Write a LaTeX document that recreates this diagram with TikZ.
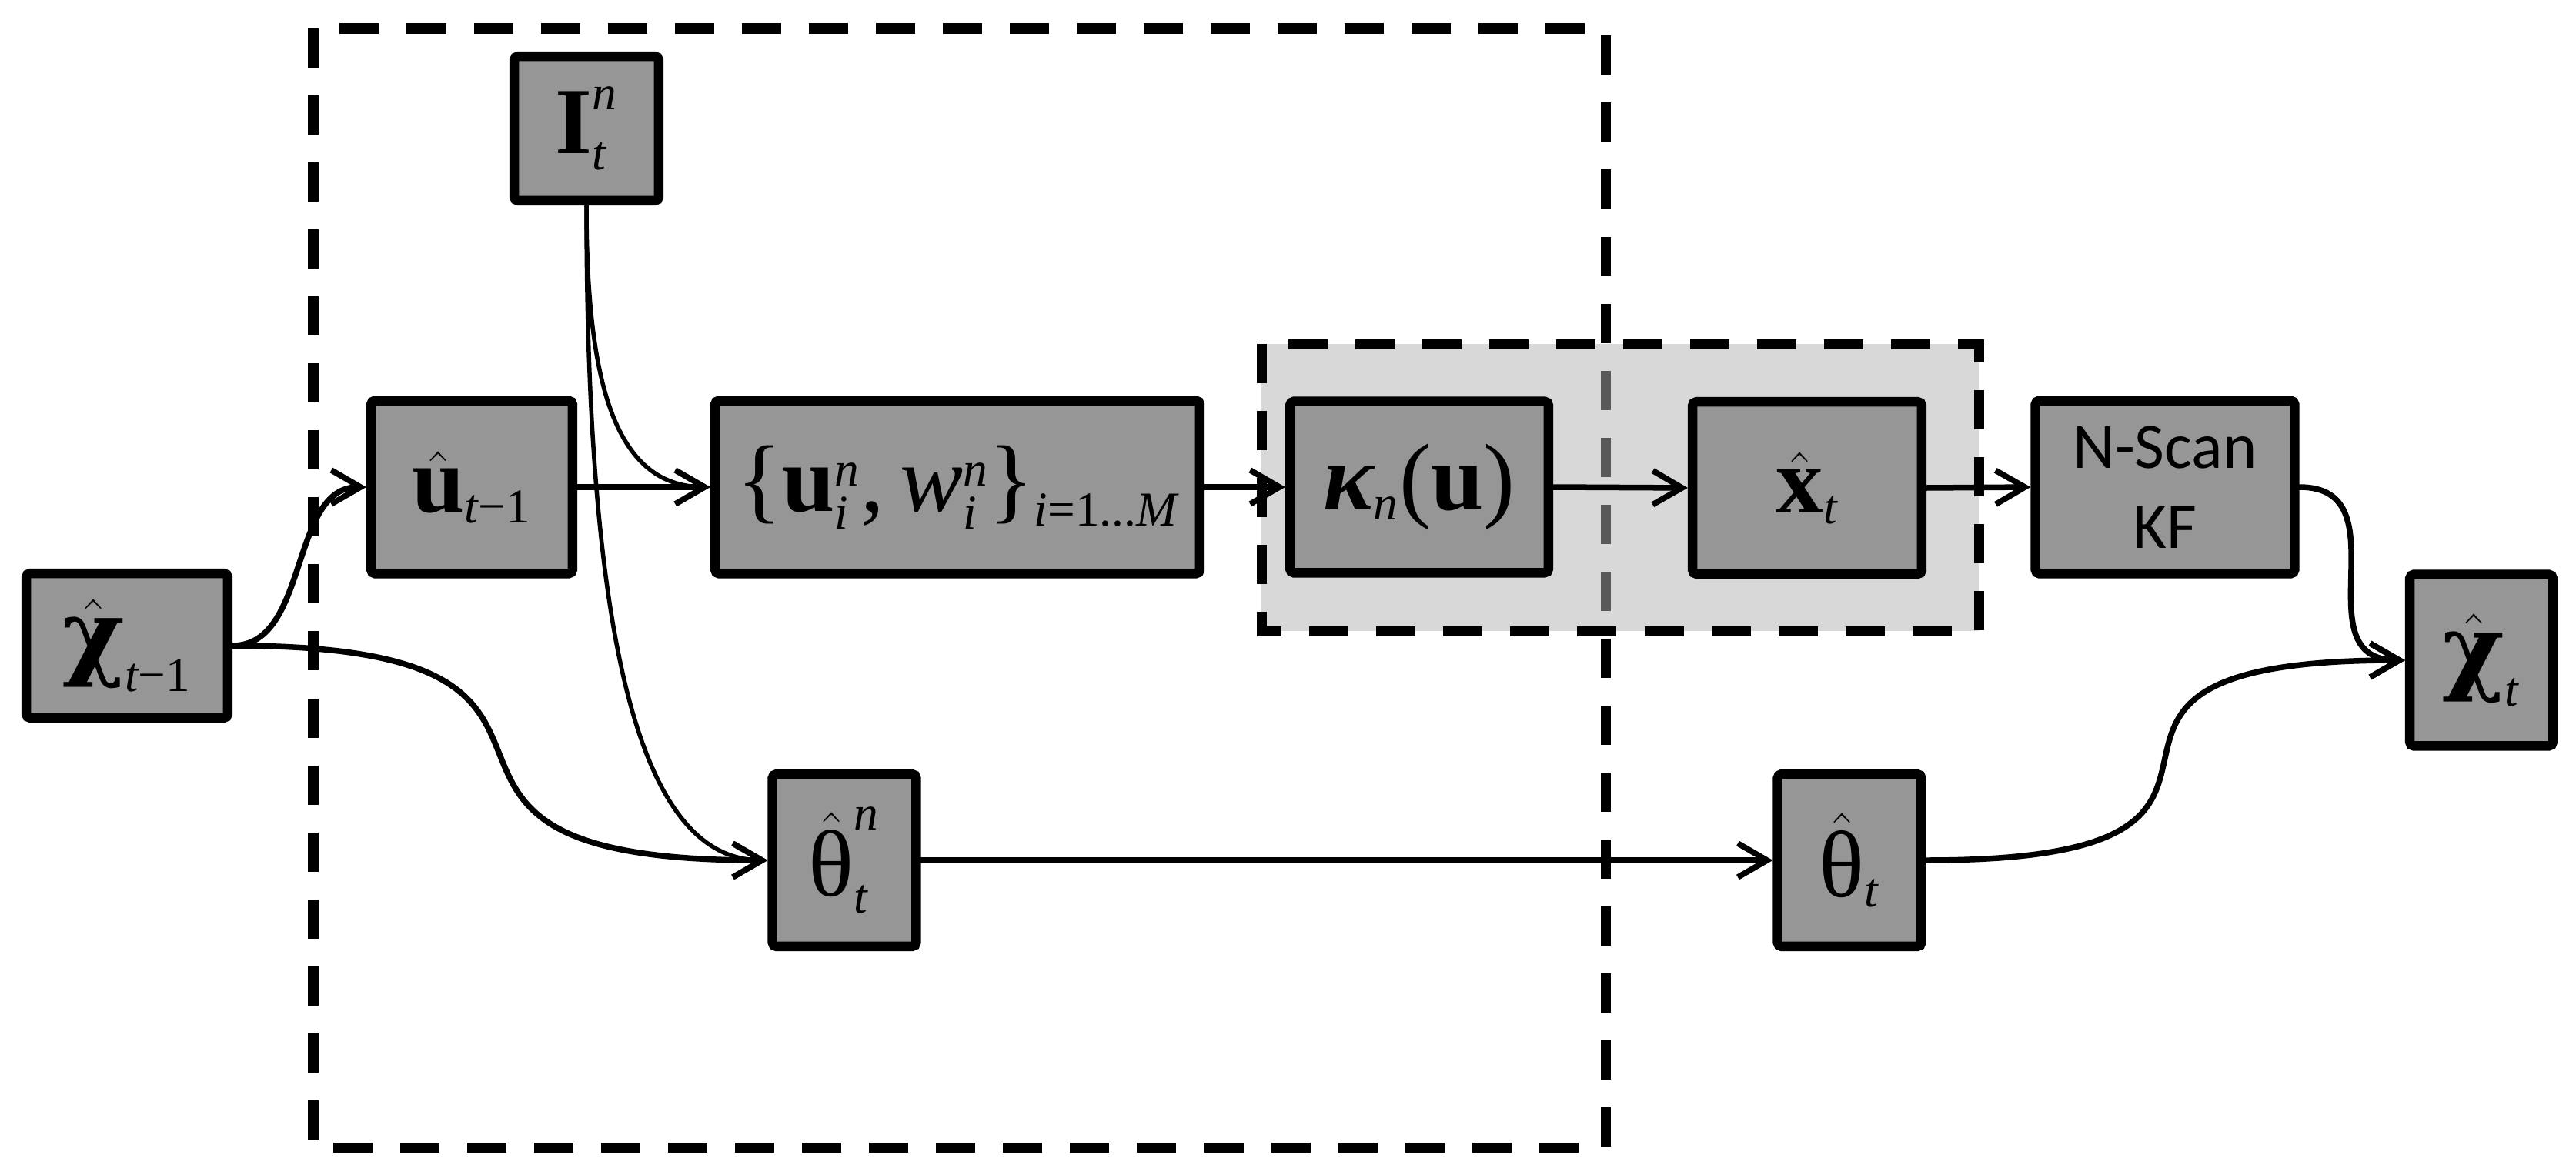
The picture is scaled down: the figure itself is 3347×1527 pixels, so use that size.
\documentclass[tikz,border=0pt]{standalone}
\usepackage{amsmath}
\usepackage{fontspec}
\setmainfont{Liberation Serif}
\newfontfamily\calib{Carlito}
\newfontfamily\dvserif{DejaVu Serif}
\usetikzlibrary{arrows.meta}
\DeclareMathSizes{35}{35}{18}{13}
\definecolor{boxgray}{RGB}{150,150,150}
\definecolor{shadegray}{gray}{0.7}
\newcommand{\mybf}[1]{\text{\bfseries #1}}
\newcommand{\myit}[1]{\text{\itshape #1}}
\newcommand{\myup}[1]{\text{#1}}
\newcommand{\bchi}{\text{\dvserif\bfseries χ}}
\begin{document}
\begin{tikzpicture}[x=0.01cm,y=-0.01cm,
  blk/.style={draw, line width=0.125cm, fill=boxgray, rounded corners=0.05cm,
    inner sep=0pt, font=\fontsize{35}{42}\selectfont},
  dashbox/.style={draw, line width=0.13cm, dash pattern=on 0.51cm off 0.36cm},
  conn/.style={line width=0.075cm, line cap=round,
    -{Straight Barb[length=0.38cm,width=0.44cm]}},
  thin/.style={line width=0.055cm, line cap=round,
    -{Straight Barb[length=0.38cm,width=0.44cm]}}]
\useasboundingbox (0,0) rectangle (3347,1527);
% dashed frames
\draw[dashbox] (407,37) rectangle (2086,1491);
\fill[shadegray, fill opacity=0.5] (1639,447) rectangle (2571,820);
\draw[dashbox] (1639,447) rectangle (2571,820);
% nodes
\node[blk, minimum width=2.615cm, minimum height=1.875cm] (chiprev) at (165,839)
  {$\hat{\bchi}_{\myit{t}\myup{−1}}$};
\node[blk, minimum width=2.615cm, minimum height=2.245cm] (uprev) at (613,633)
  {$\hat{\mybf{u}}_{\myit{t}\myup{−1}}$};
\node[blk, minimum width=1.875cm, minimum height=1.875cm] (In) at (762,167)
  {$\mybf{I}^{\myit{n}}_{\myit{t}}$};
\node[blk, minimum width=6.295cm, minimum height=2.245cm] (uw) at (1244,633)
  {$\myup{\{}\mybf{u}^{\myit{n}}_{\myit{i}}\myup{,\,}\myit{w}^{\myit{n}}_{\myit{i}}\myup{\}}_{\myit{i}\myup{=1...}\myit{M}}$};
\node[blk, minimum width=3.355cm, minimum height=2.225cm] (kappa) at (1844,633)
  {$\text{\bfseries\itshape κ}_{\myit{n}}\myup{(}\mybf{u}\myup{)}$};
\node[blk, minimum width=2.975cm, minimum height=2.235cm] (xt) at (2348,634)
  {$\hat{\mybf{x}}_{\myit{t}}$};
\node[blk, minimum width=3.365cm, minimum height=2.245cm, align=center,
  font=\calib\fontsize{24}{29.5}\selectfont] (nscan) at (2813,633) {N-Scan\\KF};
\node[blk, minimum width=1.855cm, minimum height=2.225cm] (chit) at (3224,858)
  {$\hat{\bchi}_{\myit{t}}$};
\node[blk, minimum width=1.865cm, minimum height=2.235cm] (thetan) at (1097,1118)
  {$\hat{\myup{θ}}^{\myit{n}}_{\myit{t}}$};
\node[blk, minimum width=1.865cm, minimum height=2.235cm] (thetat) at (2403,1118)
  {$\hat{\myup{θ}}_{\myit{t}}$};
% connectors
\draw[conn] (chiprev.east) .. controls +(100,0) and +(-100,0) .. (uprev.west);
\draw[conn] (chiprev.east) .. controls +(578,0) and +(-578,0) .. (thetan.west);
\draw[thin] (In.south) .. controls +(0,233) and +(-123,0) .. (uw.west);
\draw[thin] (In.south) .. controls +(0,633) and +(-148,0) .. (thetan.west);
\draw[conn] (uprev.east) -- (uw.west);
\draw[conn] (uw.east) -- (kappa.west);
\draw[conn] (kappa.east) -- (xt.west);
\draw[conn] (xt.east) -- (nscan.west);
\draw[conn] (thetan.east) -- (thetat.west);
\draw[conn] (nscan.east) .. controls +(137,0) and +(-137,0) .. (chit.west);
\draw[conn] (thetat.east) .. controls +(560,0) and +(-560,0) .. (chit.west);
\end{tikzpicture}
\end{document}
